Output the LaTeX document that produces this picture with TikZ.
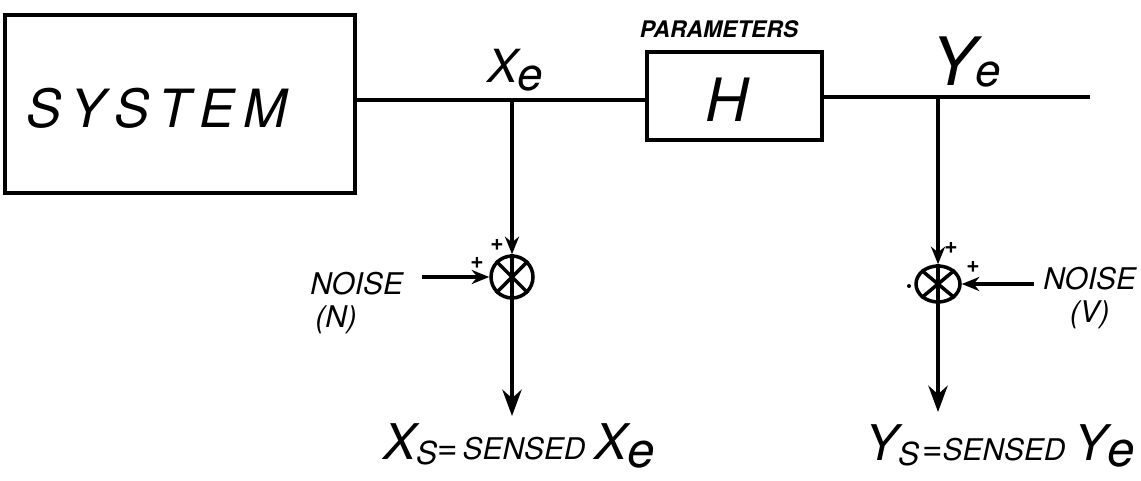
\documentclass[tikz,border=0pt]{standalone}
\usepackage{fontspec}
\setmainfont{TeX Gyre Heros}
\usetikzlibrary{arrows.meta,shapes.geometric}
\newcommand{\fsz}[1]{\fontsize{#1}{#1}\selectfont}
\begin{document}
\begin{tikzpicture}[x=0.02cm,y=-0.02cm,
  ln/.style={line width=2pt},
  blk/.style={draw,line width=2pt,rectangle,inner sep=0pt},
  lbl/.style={inner sep=0pt,font=\itshape},
  bigarrow/.style={-{Stealth[length=15pt,width=11pt]}},
  smallarrow/.style={-{Stealth[length=10pt,width=8pt]}},
  sumj/.style={draw,line width=2pt,inner sep=0pt},
  plus/.style={inner sep=0pt,font=\bfseries\fsz{13}}]
\useasboundingbox (0,0) rectangle (1141,480);
% blocks
\node[blk, minimum width=7cm, minimum height=3.56cm] (sys) at (180,104) {};
\node[lbl, font=\itshape\fsz{30}] (systxt) at (157,108) {S\,Y\,S\,T\,E\,M};
\node[blk, minimum width=3.5cm, minimum height=1.76cm] (hbox) at (734.5,96) {};
\node[lbl, font=\itshape\fsz{34}] (htxt) at (727,100) {H};
\node[lbl, font=\bfseries\itshape\fsz{13}] (param) at (719,29) {PARAMETERS};
% junction points
\coordinate (jx) at (512,100);
\coordinate (jy) at (938,97);
\coordinate (yend) at (1090,97);
\draw[ln] (jx -| sys.east) -- (jx) -- (jx -| hbox.west);
\draw[ln] (jy -| hbox.east) -- (jy) -- (yend);
% labels on lines
\node[lbl, font=\itshape\fsz{26}] (xelbl) at (515,70) {X\raisebox{-0.35ex}{e}};
\node[lbl] (yelbl) at (966,62) {{\fsz{38}Y}\raisebox{-0.1ex}{\fsz{26}e}};
% summing junctions
\node[sumj, circle, minimum size=0.84cm] (s1) at (512,277) {};
\node[sumj, ellipse, minimum width=0.88cm, minimum height=0.72cm] (s2) at (938,284) {};
\draw[ln] (s1.north west) -- (s1.south east);
\draw[ln] (s1.north east) -- (s1.south west);
\draw[ln] (s1.north) -- (s1.south);
\draw[ln] (s2.north west) -- (s2.south east);
\draw[ln] (s2.north east) -- (s2.south west);
\draw[ln] (s2.north) -- (s2.south);
% connectors into junctions
\draw[ln, smallarrow] (jx) -- (s1.north);
\draw[ln, smallarrow] (jy) -- (s2.north);
\coordinate (n1start) at (422,277);
\coordinate (n2start) at (1034,284);
\draw[ln, smallarrow] (n1start) -- (s1.west);
\draw[ln, smallarrow] (n2start) -- (s2.east);
% outputs
\coordinate (xsout) at (512,416);
\coordinate (ysout) at (938,412);
\draw[ln, bigarrow] (s1.south) -- (xsout);
\draw[ln, bigarrow] (s2.south) -- (ysout);
% signs
\node[plus] (p1a) at (477,263) {+};
\node[plus] (p1b) at (497,245) {+};
\node[plus] (p2a) at (973,267) {+};
\node[plus] (p2b) at (951,248) {+};
\fill (909,286) circle (2);
% noise labels
\node[lbl, font=\itshape\fsz{17}, anchor=west, align=left] (noiseN) at (310,303) {NOISE\\[2pt]\,(N)};
\node[lbl, font=\itshape\fsz{17}, anchor=west, align=center] (noiseV) at (1043,298) {NOISE\\[2pt](V)};
% output labels
\node[lbl, anchor=west] (xslbl) at (383,446) {{\fsz{28}X}\raisebox{-0.5ex}{\fsz{18}S}{\fsz{20}=} {\fsz{17}SENSED}\enspace{\fsz{28}X\raisebox{-0.3ex}{e}}};
\node[lbl, anchor=west] (yslbl) at (865,446) {{\fsz{28}Y}\raisebox{-0.5ex}{\fsz{18}S}\,{\fsz{20}=}{\fsz{17}SENSED}\enspace{\fsz{28}Y\raisebox{-0.2ex}{e}}};
\end{tikzpicture}
\end{document}
